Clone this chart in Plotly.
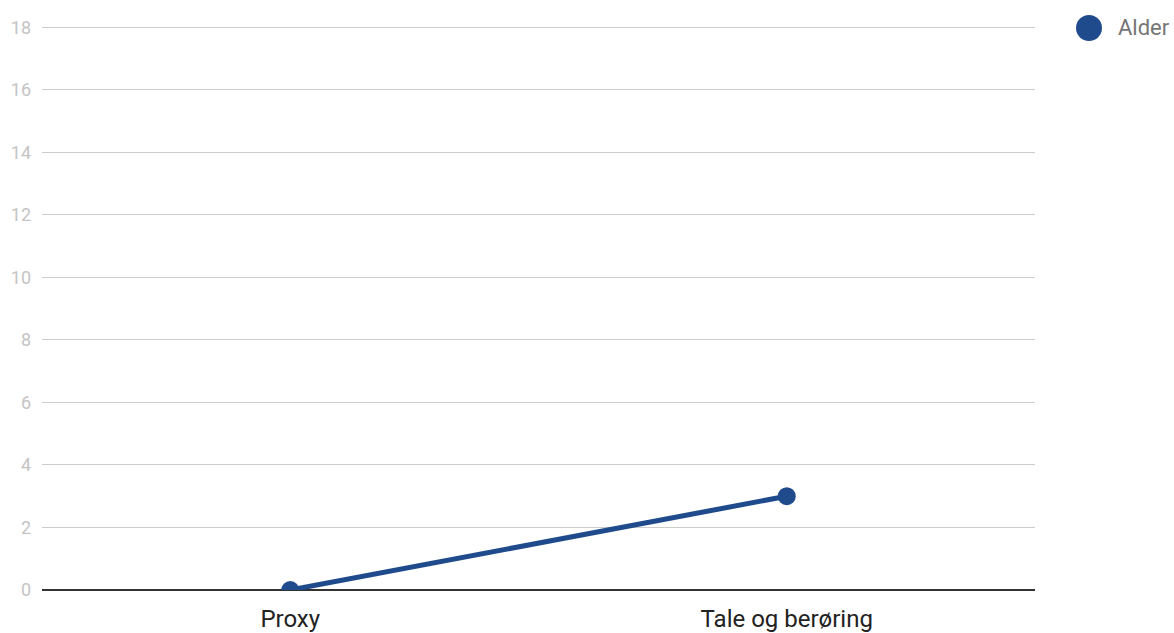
import plotly.graph_objects as go

# Chart data
categories = ["Proxy", "Tale og berøring"]
alder = [0, 3]
series_name = "Alder"
y_ticks = [0, 2, 4, 6, 8, 10, 12, 14, 16, 18]

LINE_COLOR = "#1f4a8c"

fig = go.Figure()
fig.add_trace(go.Scatter(
    x=categories, y=alder, name=series_name,
    mode="lines+markers",
    line=dict(color=LINE_COLOR, width=5),
    marker=dict(color=LINE_COLOR, size=18),
    showlegend=False,
))

L, R, T, B = 42, 139, 26, 43
W, H = 1174, 633
pw, ph = W - L - R, H - T - B

# Legend: large dot plus label, placed to the right of the plot
cx, cy, r = 1089, 28, 13
fig.add_shape(
    type="circle", xref="paper", yref="paper",
    x0=(cx - r - L) / pw, x1=(cx + r - L) / pw,
    y0=(H - B - cy - r) / ph, y1=(H - B - cy + r) / ph,
    fillcolor=LINE_COLOR, line=dict(width=0),
)
fig.add_annotation(
    text=series_name, xref="paper", yref="paper",
    x=(1116 - L) / pw, y=(H - B - cy) / ph,
    xanchor="left", yanchor="middle", showarrow=False,
    font=dict(family="Roboto", size=22, color="#757575"),
)

fig.update_layout(
    width=W, height=H,
    margin=dict(l=L, r=R, t=T, b=B, autoexpand=False),
    paper_bgcolor="white", plot_bgcolor="white",
    font=dict(family="Roboto"),
    xaxis=dict(
        type="category", range=[-0.5, 1.5], automargin=False,
        showgrid=False, showline=False, zeroline=False,
        tickfont=dict(size=24, color="#222222"),
        ticklabelstandoff=12,
    ),
    yaxis=dict(
        range=[0, 18.04], tickvals=y_ticks, automargin=False,
        showgrid=True, gridcolor="#cccccc", gridwidth=1,
        zeroline=True, zerolinecolor="#333333", zerolinewidth=2,
        showline=False,
        tickfont=dict(size=18, color="#c4c4c4"),
        ticklabelstandoff=10,
    ),
)

fig.write_html("out.html")
